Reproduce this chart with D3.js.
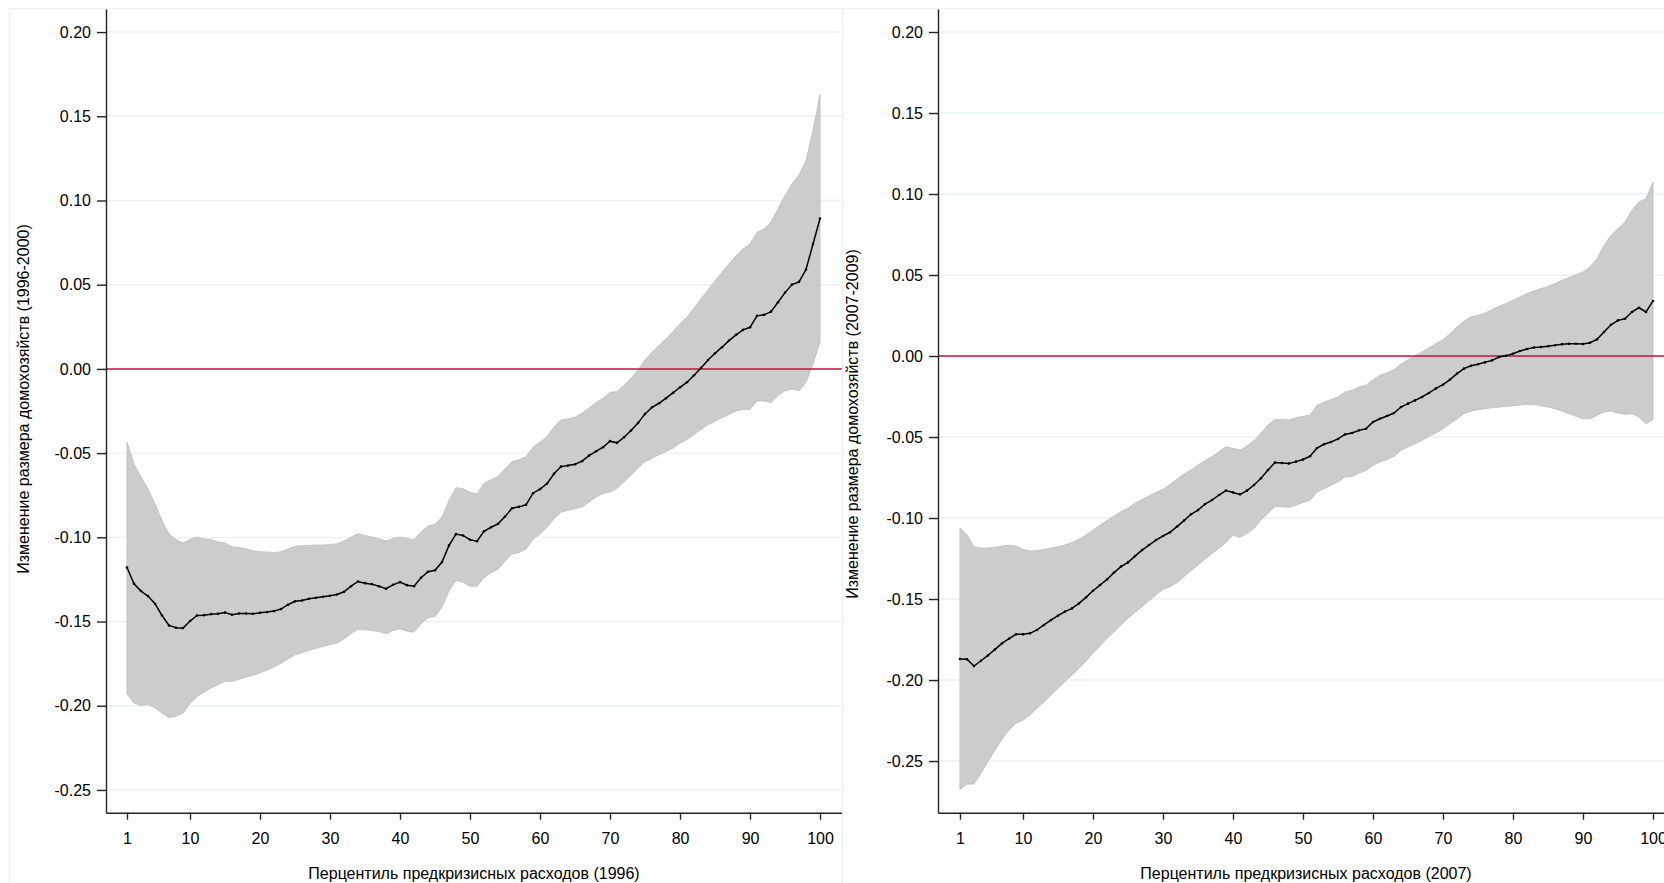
<!DOCTYPE html>
<html lang="ru">
<head>
<meta charset="utf-8">
<title>Household size change by pre-crisis spending percentile</title>
<style>
body { margin: 0; background: #fff; }
svg { display: block; font-family: "Liberation Sans", Arial, sans-serif; }
.tick text { font-size: 16px; fill: #000; }
.axisTitle { font-size: 16px; fill: #000; text-anchor: middle; }
</style>
</head>
<body>
<div id="chart"></div>
<script src="https://d3js.org/d3.v7.min.js"></script>
<script>
// percentiles 1..100
var pct = d3.range(1, 101);

// 1996-2000 panel
var mean96 = [
  -0.118, -0.1276, -0.1319, -0.1349, -0.1394, -0.1464, -0.1523, -0.1537, -0.1539, -0.1497,
  -0.1464, -0.1462, -0.1456, -0.1454, -0.1446, -0.146, -0.1452, -0.1452, -0.1454, -0.1448,
  -0.1444, -0.1438, -0.1426, -0.14, -0.138, -0.1375, -0.1365, -0.1359, -0.1353, -0.1347,
  -0.1339, -0.1323, -0.129, -0.1262, -0.1272, -0.1278, -0.129, -0.1305, -0.1282, -0.1266,
  -0.1284, -0.129, -0.124, -0.1204, -0.1196, -0.1147, -0.1048, -0.0981, -0.0989, -0.1014,
  -0.1023, -0.0964, -0.094, -0.092, -0.0877, -0.0827, -0.0819, -0.0807, -0.0738, -0.0714,
  -0.0681, -0.0623, -0.058, -0.0574, -0.0566, -0.0548, -0.0515, -0.0489, -0.0465, -0.0429,
  -0.0439, -0.0406, -0.0366, -0.0321, -0.0267, -0.0228, -0.0204, -0.0174, -0.0142, -0.0109,
  -0.0079, -0.0038, 0.0006, 0.0053, 0.0093, 0.0129, 0.0168, 0.0202, 0.0232, 0.0247,
  0.0315, 0.0321, 0.034, 0.0396, 0.0453, 0.0501, 0.0517, 0.059, 0.0742, 0.0893
];
var upper96 = [
  -0.0435, -0.0563, -0.0642, -0.0712, -0.0801, -0.09, -0.0979, -0.1014, -0.1034, -0.1012,
  -0.0999, -0.1009, -0.1012, -0.1028, -0.1034, -0.1056, -0.106, -0.1068, -0.108, -0.1086,
  -0.1088, -0.109, -0.1086, -0.107, -0.1054, -0.105, -0.1048, -0.1046, -0.1046, -0.1044,
  -0.1038, -0.1022, -0.0999, -0.0979, -0.0989, -0.0999, -0.1009, -0.1022, -0.1007, -0.0999,
  -0.1007, -0.1014, -0.0969, -0.0933, -0.0923, -0.088, -0.0781, -0.0706, -0.0712, -0.0733,
  -0.0742, -0.0679, -0.0659, -0.0639, -0.0594, -0.055, -0.054, -0.0521, -0.0465, -0.0435,
  -0.0402, -0.0346, -0.0303, -0.0297, -0.0287, -0.0263, -0.0232, -0.02, -0.0174, -0.0139,
  -0.0135, -0.0099, -0.0055, -0.0006, 0.0053, 0.0099, 0.0139, 0.0178, 0.0222, 0.0267,
  0.0307, 0.036, 0.0416, 0.0469, 0.0524, 0.0574, 0.0623, 0.0673, 0.0712, 0.0742,
  0.0811, 0.0831, 0.0871, 0.095, 0.1029, 0.1098, 0.1152, 0.1237, 0.1415, 0.1629
];
var lower96 = [
  -0.1929, -0.1984, -0.1998, -0.1992, -0.2012, -0.2043, -0.2071, -0.2063, -0.2043, -0.1988,
  -0.1944, -0.1919, -0.1895, -0.1875, -0.1855, -0.1855, -0.1843, -0.183, -0.182, -0.1804,
  -0.1788, -0.177, -0.1747, -0.1721, -0.1697, -0.1685, -0.1671, -0.1659, -0.1648, -0.1636,
  -0.1628, -0.1602, -0.1572, -0.1545, -0.1549, -0.1553, -0.1559, -0.1572, -0.1553, -0.1543,
  -0.1557, -0.1563, -0.1513, -0.1477, -0.147, -0.1414, -0.1319, -0.1256, -0.1266, -0.129,
  -0.129, -0.124, -0.121, -0.119, -0.114, -0.110, -0.109, -0.107, -0.101, -0.098,
  -0.094, -0.089, -0.085, -0.084, -0.083, -0.082, -0.079, -0.076, -0.074, -0.073,
  -0.071, -0.067, -0.063, -0.059, -0.055, -0.053, -0.051, -0.049, -0.047, -0.044,
  -0.042, -0.039, -0.036, -0.033, -0.031, -0.029, -0.027, -0.025, -0.024, -0.024,
  -0.019, -0.019, -0.020, -0.016, -0.013, -0.012, -0.013, -0.008, 0.003, 0.016
];

// 2007-2009 panel
var mean07 = [
  -0.187, -0.1872, -0.1914, -0.1881, -0.1848, -0.1811, -0.1774, -0.1745, -0.1718, -0.1718,
  -0.1712, -0.1691, -0.166, -0.163, -0.1603, -0.1578, -0.1558, -0.1527, -0.149, -0.1449,
  -0.1414, -0.1379, -0.1337, -0.13, -0.1274, -0.1235, -0.1198, -0.1167, -0.1136, -0.1111,
  -0.1088, -0.1053, -0.1016, -0.0977, -0.0951, -0.0914, -0.0889, -0.0858, -0.0831, -0.0842,
  -0.0854, -0.0831, -0.0796, -0.0755, -0.0704, -0.0658, -0.066, -0.0663, -0.0652, -0.0639,
  -0.0619, -0.0568, -0.0545, -0.0531, -0.0512, -0.0484, -0.0475, -0.0459, -0.0449, -0.0407,
  -0.0387, -0.037, -0.0352, -0.0315, -0.0294, -0.0274, -0.0253, -0.0228, -0.02, -0.0177,
  -0.0146, -0.0109, -0.0078, -0.006, -0.0051, -0.0039, -0.0027, -0.0006, 0.0002, 0.0014,
  0.0031, 0.0043, 0.0053, 0.0056, 0.006, 0.0066, 0.0072, 0.0076, 0.0076, 0.0074,
  0.0082, 0.0103, 0.0148, 0.0193, 0.022, 0.023, 0.0272, 0.0298, 0.0272, 0.034
];
var upper07 = [
  -0.106, -0.1105, -0.1177, -0.1187, -0.1185, -0.1181, -0.1173, -0.1169, -0.1173, -0.1193,
  -0.1204, -0.1202, -0.1193, -0.1187, -0.1177, -0.1167, -0.1152, -0.1132, -0.1105, -0.1074,
  -0.1045, -0.1016, -0.0988, -0.0961, -0.094, -0.0909, -0.0885, -0.0864, -0.0842, -0.0823,
  -0.0792, -0.0761, -0.0728, -0.0704, -0.0673, -0.0646, -0.0621, -0.0591, -0.056, -0.057,
  -0.058, -0.0556, -0.0523, -0.0477, -0.0426, -0.0391, -0.0391, -0.0395, -0.0381, -0.0372,
  -0.0366, -0.0305, -0.0284, -0.027, -0.0253, -0.0222, -0.0212, -0.0191, -0.0181, -0.0146,
  -0.0119, -0.0105, -0.0084, -0.0051, -0.0023, 0.0, 0.0025, 0.0051, 0.0076, 0.0101,
  0.0138, 0.0179, 0.0216, 0.0241, 0.0251, 0.0265, 0.0286, 0.0307, 0.0323, 0.0344,
  0.0364, 0.0385, 0.0401, 0.0416, 0.043, 0.0447, 0.0467, 0.0484, 0.0502, 0.0519,
  0.0549, 0.0601, 0.0683, 0.0745, 0.0786, 0.0827, 0.0899, 0.0951, 0.0971, 0.1074
];
var lower07 = [
  -0.2675, -0.2642, -0.2642, -0.2576, -0.2504, -0.2432, -0.2366, -0.2309, -0.2267, -0.2247,
  -0.2216, -0.2175, -0.2134, -0.2093, -0.2051, -0.201, -0.1969, -0.1928, -0.1883, -0.1835,
  -0.1788, -0.1743, -0.1702, -0.166, -0.1619, -0.1582, -0.1547, -0.151, -0.1475, -0.144,
  -0.1424, -0.1399, -0.1362, -0.1325, -0.129, -0.1255, -0.1218, -0.1187, -0.1152, -0.1105,
  -0.1119, -0.1095, -0.1064, -0.1012, -0.0971, -0.093, -0.093, -0.0934, -0.092, -0.0905,
  -0.0891, -0.084, -0.0819, -0.0798, -0.0778, -0.0747, -0.0743, -0.0722, -0.0706, -0.0675,
  -0.0654, -0.064, -0.0619, -0.0582, -0.0562, -0.0541, -0.0521, -0.0496, -0.0475, -0.0449,
  -0.0418, -0.0387, -0.0356, -0.034, -0.0331, -0.0325, -0.0319, -0.0315, -0.0311, -0.0307,
  -0.0302, -0.0298, -0.03, -0.0307, -0.0315, -0.0325, -0.034, -0.0356, -0.0372, -0.0387,
  -0.0387, -0.0366, -0.0346, -0.034, -0.0352, -0.036, -0.0356, -0.0377, -0.0418, -0.0393
];

var xTicks = [1, 10, 20, 30, 40, 50, 60, 70, 80, 90, 100];
var yTicks = [0.20, 0.15, 0.10, 0.05, 0.00, -0.05, -0.10, -0.15, -0.20, -0.25];

var W = 1664, H = 883;
var plotTop = 9, plotBottom = 812.7;

var svg = d3.select('#chart').append('svg')
  .attr('width', W)
  .attr('height', H);

// panel layout (Stata-like graph regions)
var panels = [
  { left: 9, right: 842, axisX: 106, xDom: [-2, 103.14], yDom: [-0.2635, 0.2137],
    mean: mean96, lo: lower96, hi: upper96, titleX: 23.5, titleY: 399,
    ytitle: 'Изменение размера домохозяйств (1996-2000)',
    xtitle: 'Перцентиль предкризисных расходов (1996)' },
  { left: 842, right: 1675, axisX: 938, xDom: [-2.14, 103], yDom: [-0.2819, 0.2142],
    mean: mean07, lo: lower07, hi: upper07, titleX: 852.5, titleY: 424,
    ytitle: 'Изменение размера домохозяйств (2007-2009)',
    xtitle: 'Перцентиль предкризисных расходов (2007)' }
];

panels.forEach(function(p) {
  var g = svg.append('g');
  var plotRight = p.axisX + 736;

  // outer border of the graph region
  g.append('rect')
    .attr('x', p.left + 0.5).attr('y', 8.5)
    .attr('width', p.right - p.left).attr('height', H + 20)
    .attr('fill', 'none')
    .attr('stroke', '#eaf2f3')
    .attr('stroke-width', 1.3);

  var x = d3.scaleLinear().domain(p.xDom).range([p.axisX, plotRight]);
  var y = d3.scaleLinear().domain(p.yDom).range([plotBottom, plotTop]);

  // grid
  g.selectAll('.grid')
    .data(yTicks)
    .enter().append('line')
    .attr('x1', p.axisX).attr('x2', p.right)
    .attr('y1', function(d) { return y(d); })
    .attr('y2', function(d) { return y(d); })
    .attr('stroke', '#eaf2f3')
    .attr('stroke-width', 1.4);

  // confidence band
  var area = d3.area()
    .x(function(d, i) { return x(pct[i]); })
    .y0(function(d, i) { return y(p.lo[i]); })
    .y1(function(d, i) { return y(p.hi[i]); });
  g.append('path')
    .datum(pct)
    .attr('d', area)
    .attr('fill', '#cccccc')
    .attr('stroke', '#c4c4c4')
    .attr('stroke-width', 1);

  // zero line
  g.append('line')
    .attr('x1', p.axisX).attr('x2', p.right)
    .attr('y1', y(0)).attr('y2', y(0))
    .attr('stroke', '#c8103e')
    .attr('stroke-width', 1.5);

  // mean line with small markers
  var line = d3.line()
    .x(function(d, i) { return x(pct[i]); })
    .y(function(d) { return y(d); });
  g.append('path')
    .datum(p.mean)
    .attr('d', line)
    .attr('fill', 'none')
    .attr('stroke', '#000')
    .attr('stroke-width', 1.5);
  g.selectAll('.dot')
    .data(p.mean)
    .enter().append('circle')
    .attr('cx', function(d, i) { return x(pct[i]); })
    .attr('cy', function(d) { return y(d); })
    .attr('r', 1.3)
    .attr('fill', '#000');

  // axes
  var yAxis = g.append('g')
    .attr('transform', 'translate(' + p.axisX + ',0)')
    .call(d3.axisLeft(y).tickValues(yTicks).tickSizeInner(9).tickSizeOuter(0).tickPadding(6)
      .tickFormat(function(d) { return d.toFixed(2); }));
  var xAxis = g.append('g')
    .attr('transform', 'translate(0,' + plotBottom + ')')
    .call(d3.axisBottom(x).tickValues(xTicks).tickSizeInner(7).tickSizeOuter(0).tickPadding(13)
      .tickFormat(d3.format('d')));
  [yAxis, xAxis].forEach(function(a) {
    a.select('.domain').attr('stroke', '#222').attr('stroke-width', 1.4);
    a.selectAll('.tick line').attr('stroke', '#222').attr('stroke-width', 1.4);
    a.attr('font-family', null).attr('font-size', null);
  });

  // titles
  g.append('text')
    .attr('class', 'axisTitle')
    .attr('x', (p.axisX + plotRight) / 2)
    .attr('y', 879)
    .text(p.xtitle);
  g.append('text')
    .attr('class', 'axisTitle')
    .attr('transform', 'translate(' + p.titleX + ',' + p.titleY + ') rotate(-90)')
    .attr('dy', '0.35em')
    .text(p.ytitle);
});
</script>
</body>
</html>
